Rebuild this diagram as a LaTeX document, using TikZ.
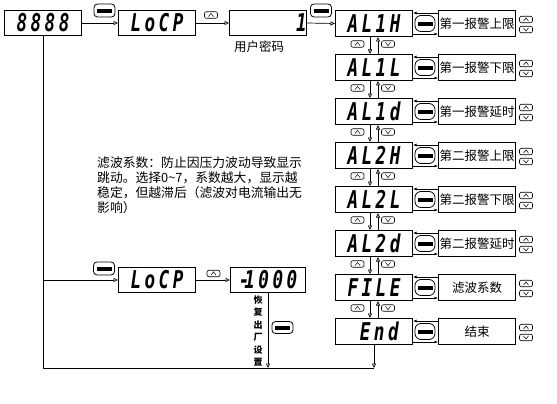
\documentclass[tikz,border=0pt]{standalone}
\usepackage{fontspec}
\setmainfont{Liberation Sans}
\newfontfamily\cjk{Noto Sans CJK SC}
\newfontfamily\lcd[FakeStretch=0.72,LetterSpace=14]{DejaVu Sans Mono}
\usetikzlibrary{arrows.meta}
\tikzset{
  disp/.style={draw, line width=1pt, minimum width=77pt, minimum height=26pt, inner sep=0pt, anchor=north west,
    font=\lcd\bfseries\itshape\fontsize{24.5}{24.5}\selectfont},
  disp25/.style={disp, minimum height=25pt},
  tbox/.style={draw, line width=1pt, minimum width=77pt, minimum height=26pt, inner sep=0pt, anchor=north west,
    font=\cjk\fontsize{12.5}{13}\selectfont},
  lbl/.style={font=\cjk\fontsize{12.5}{13}\selectfont, inner sep=0pt},
  arr/.style={line width=0.7pt, -{Triangle[open,length=4.5pt,width=4pt]}},
  sarr/.style={line width=0.7pt, -{Latex[length=3.5pt,width=3pt]}},
  ln/.style={line width=0.7pt},
  ekey/.style={draw, line width=0.8pt, rounded corners=3.5pt, minimum width=21pt, minimum height=13pt, inner sep=0pt, fill=white,
    path picture={\fill[black, sharp corners] ([shift={(-7.5pt,-2.2pt)}]path picture bounding box.center) rectangle ([shift={(7.5pt,1.8pt)}]path picture bounding box.center);}},
  ekeyr/.style={ekey, rounded corners=6pt, minimum width=20pt, minimum height=16pt},
  ukey/.style={draw, line width=0.6pt, rounded corners=2pt, minimum width=13pt, minimum height=6.5pt, inner sep=0pt, fill=white,
    path picture={\draw[black, sharp corners, line width=0.5pt] ([shift={(-2.5pt,-1.6pt)}]path picture bounding box.center) -- ([shift={(0pt,1.6pt)}]path picture bounding box.center) -- ([shift={(2.5pt,-1.6pt)}]path picture bounding box.center);}},
  dkey/.style={draw, line width=0.6pt, rounded corners=2pt, minimum width=13pt, minimum height=6.5pt, inner sep=0pt, fill=white,
    path picture={\draw[black, sharp corners, line width=0.5pt] ([shift={(-2.5pt,1.6pt)}]path picture bounding box.center) -- ([shift={(0pt,-1.6pt)}]path picture bounding box.center) -- ([shift={(2.5pt,1.6pt)}]path picture bounding box.center);}},
}
\begin{document}
\begin{tikzpicture}[x=1pt,y=-1pt]
\useasboundingbox (0,0) rectangle (557,404);
% top row
\node[disp25] (b8888) at (4,10) {8888};
\node[disp25] (lock1) at (118,10) {LoCP};
\node[disp25, minimum width=77pt] (pwd) at (229,10) {};
\node[font=\lcd\bfseries\itshape\fontsize{24.5}{24.5}\selectfont, inner sep=0pt, anchor=east] (pwdv) at (pwd.east) {1\hspace{6pt}};
\node[lbl] (pwdlbl) at (259,47) {用户密码};
% AL rows
\foreach \i/\d/\t in {0/AL1H/第一报警上限, 1/AL1L/第一报警下限, 2/AL1d/第一报警延时, 3/AL2H/第二报警上限,
                      4/AL2L/第二报警下限, 5/AL2d/第二报警延时, 6/FILE/滤波系数, 7/{\phantom{8}End}/结束}{
  \pgfmathsetmacro\y{10+44*\i}
  \pgfmathsetmacro\c{\y+13}
  \node[disp] (A\i) at (335,\y) {\d};
  \node[tbox] (T\i) at (438,\y) {\t};
  \draw[sarr] ([yshift=-3pt]T\i.north west) -- ([yshift=-3pt]A\i.north east);
  \draw[sarr] ([yshift=3pt]A\i.south east) -- ([yshift=3pt]T\i.south west);
  \node[ekeyr] (K\i) at (425,\c+0.5) {};
  \node[ukey] (RU\i) at (526,\c-3.5) {};
  \node[dkey] (RD\i) at (526,\c+6.5) {};
}
\foreach \i in {0,...,6}{
  \pgfmathtruncatemacro\j{\i+1}
  \pgfmathsetmacro\ym{44+44*\i}
  \draw[arr] ([xshift=-4pt]A\i.south) -- ([xshift=-4pt]A\j.north);
  \draw[arr] ([xshift=4pt]A\j.north) -- ([xshift=4pt]A\i.south);
  \node[ukey] (MU\i) at (357.5,\ym) {};
  \node[dkey] (MD\i) at (388,\ym) {};
}
% top connectors
\draw[arr] (b8888.east) -- (lock1.west);
\node[ekey] (k1) at (104.5,10.5) {};
\draw[arr] (lock1.east) -- (pwd.west);
\node[ukey] (u1) at (211,15) {};
\draw[arr] (pwd.east) -- (A0.west);
\node[ekey] (k2) at (321,10.5) {};
% lower row
\node[disp25] (lock2) at (118,267) {LoCP};
\node[disp25, minimum width=75pt] (rst) at (230,267) {{-}\kern-5pt1000};
\coordinate (bot) at (0,368);
\draw[ln] (b8888.south) -- (b8888.south |- bot) -- (A7.south |- bot);
\draw[arr] (A7.south) -- (A7.south |- bot);
\draw[arr] (b8888.south |- lock2.west) -- (lock2.west);
\node[ekey] (k3) at (104,268.5) {};
\draw[arr] (lock2.east) -- (rst.west);
\node[ukey] (u2) at (213.5,273.5) {};
\draw[arr] (rst.south) -- (rst.south |- bot);
\node[font=\cjk\bfseries\fontsize{9}{12.4}\selectfont, align=center, inner sep=0pt] (rstlbl) at (258,331) {恢\\复\\出\\厂\\设\\置};
\node[ekey, minimum height=12pt] (k4) at (282.5,327.5) {};
% note
\node[font=\cjk\fontsize{12.8}{15}\selectfont, align=left, anchor=north west, inner sep=0pt] (note) at (97,157)
  {滤波系数：防止因压力波动导致显示\\跳动。选择0\textasciitilde7，系数越大，显示越\\稳定，但越滞后（滤波对电流输出无\\影响）};
\end{tikzpicture}
\end{document}
